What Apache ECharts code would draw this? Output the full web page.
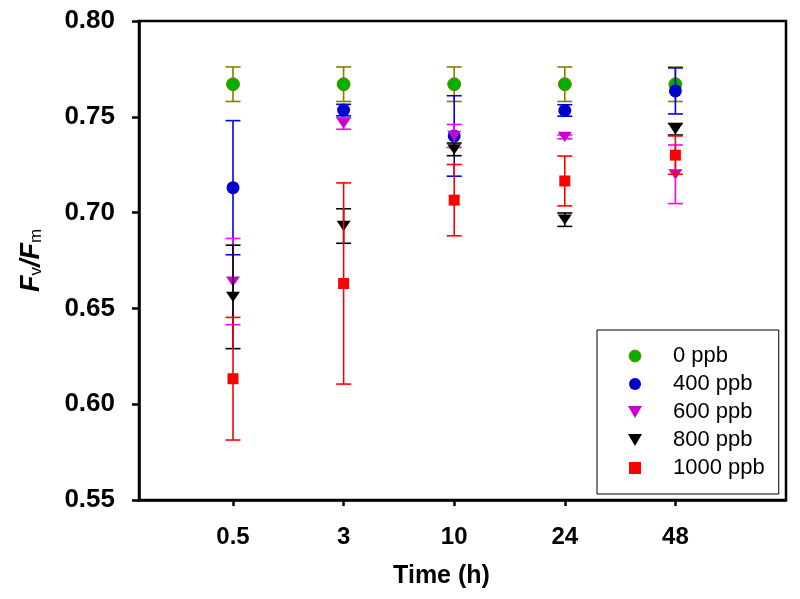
<!DOCTYPE html>
<html>
<head>
<meta charset="utf-8">
<script src="https://cdn.jsdelivr.net/npm/echarts@6/dist/echarts.min.js"></script>
<style>html,body{margin:0;padding:0;background:#fff;}#chart{width:800px;height:599px;}</style>
</head>
<body>
<div id="chart"></div>
<script>
// ---- data ----
var times = ['0.5', '3', '10', '24', '48'];
var seriesNames = ['0 ppb', '400 ppb', '600 ppb', '800 ppb', '1000 ppb'];
var mean0    = [0.767, 0.767, 0.767, 0.767, 0.767];
var sd0      = [0.009, 0.009, 0.009, 0.009, 0.009];
var mean400  = [0.713, 0.7535, 0.740, 0.7533, 0.7635];
var sd400    = [0.035, 0.003, 0.021, 0.003, 0.012];
var mean600  = [0.664, 0.7465, 0.740, 0.7395, 0.720];
var sd600    = [0.0225, 0.003, 0.006, 0.001, 0.0153];
var mean800  = [0.656, 0.693, 0.733, 0.6963, 0.7435];
var sd800    = [0.027, 0.009, 0.0033, 0.0035, 0.003];
var mean1000 = [0.6133, 0.663, 0.7065, 0.7165, 0.730];
var sd1000   = [0.032, 0.0525, 0.0186, 0.013, 0.010];

var means = [mean0, mean400, mean600, mean800, mean1000];
var sds = [sd0, sd400, sd600, sd800, sd1000];
var markerFill = ['#00b000', '#0000cc', '#cc00cc', '#000000', '#ff0000'];
var barColor = ['#808000', '#0000ee', '#ff00ff', '#000000', '#ff0000'];
var downTri = 'path://M0,0 L14,0 L7,12 Z';
var square = 'path://M0,0 L10,0 L10,10 L0,10 Z';
var symbols = ['circle', 'circle', downTri, downTri, square];
var symSizes = [13, 13, [14, 12], [14, 12], 11];

var series = [];
seriesNames.forEach(function (name, i) {
  var errData = times.map(function (t, k) {
    return [k + 1, means[i][k] - sds[i][k], means[i][k] + sds[i][k]];
  });
  series.push({
    type: 'custom',
    name: name + ' err',
    z: 2 + 2 * i,
    data: errData,
    encode: { x: 0, y: [1, 2] },
    renderItem: (function (color) {
      return function (params, api) {
        var lo = api.coord([api.value(0), api.value(1)]);
        var hi = api.coord([api.value(0), api.value(2)]);
        var hw = 7.5;
        var st = { stroke: color, lineWidth: 1.6 };
        return {
          type: 'group',
          children: [
            { type: 'line', shape: { x1: lo[0], y1: lo[1], x2: hi[0], y2: hi[1] }, style: st },
            { type: 'line', shape: { x1: lo[0] - hw, y1: lo[1], x2: lo[0] + hw, y2: lo[1] }, style: st },
            { type: 'line', shape: { x1: hi[0] - hw, y1: hi[1], x2: hi[0] + hw, y2: hi[1] }, style: st }
          ]
        };
      };
    })(barColor[i]),
    silent: true
  });
  series.push({
    type: 'scatter',
    name: name,
    z: 3 + 2 * i,
    symbol: symbols[i],
    symbolSize: symSizes[i],
    symbolKeepAspect: true,
    itemStyle: i === 0 ? { color: markerFill[i], opacity: 1, borderColor: '#808000', borderWidth: 1 } : { color: markerFill[i], opacity: 1 },
    data: times.map(function (t, k) { return [k + 1, means[i][k]]; })
  });
});

var legendData = seriesNames.map(function (n, i) {
  return { name: n, icon: symbols[i], itemStyle: i === 0 ? { color: markerFill[i], opacity: 1, borderColor: '#808000', borderWidth: 1 } : { color: markerFill[i], opacity: 1 } };
});

var chart = echarts.init(document.getElementById('chart'), null, { renderer: 'canvas' });
chart.setOption({
  animation: false,
  backgroundColor: '#ffffff',
  grid: { left: 139, right: 14, top: 21, bottom: 99, show: true, borderColor: '#000', borderWidth: 2.5, backgroundColor: 'transparent' },
  legend: {
    data: legendData,
    orient: 'vertical',
    left: 597,
    top: 330,
    padding: [15, 14, 15, 31],
    itemGap: 6,
    itemWidth: 66,
    itemHeight: 12,
    symbolKeepAspect: true,
    borderColor: '#000',
    borderWidth: 1,
    backgroundColor: '#fff',
    textStyle: { fontFamily: 'Liberation Sans', fontSize: 22, color: '#000', lineHeight: 20 }
  },
  xAxis: {
    type: 'value',
    min: 0.15,
    max: 6,
    splitLine: { show: false },
    axisLine: { lineStyle: { color: '#000', width: 2.5 } },
    axisTick: { show: true, inside: false, length: 6, lineStyle: { color: '#000', width: 2.5 }, customValues: [1, 2, 3, 4, 5] },
    axisLabel: {
      customValues: [1, 2, 3, 4, 5],
      formatter: function (v) { return times[Math.round(v) - 1]; },
      fontFamily: 'Liberation Sans', fontWeight: 'bold', fontSize: 24, color: '#000', margin: 25
    },
    name: 'Time (h)',
    nameLocation: 'middle',
    nameGap: 64,
    nameTextStyle: { fontFamily: 'Liberation Sans', fontWeight: 'bold', fontSize: 25, color: '#000', padding: [0, 42, 0, 0] }
  },
  yAxis: {
    type: 'value',
    min: 0.55,
    max: 0.80,
    interval: 0.05,
    splitLine: { show: false },
    axisLine: { show: true, lineStyle: { color: '#000', width: 2.5 } },
    axisTick: { show: true, inside: false, length: 7, lineStyle: { color: '#000', width: 2.5 } },
    axisLabel: {
      formatter: function (v) { return v.toFixed(2); },
      fontFamily: 'Liberation Sans', fontWeight: 'bold', fontSize: 26, color: '#000', margin: 24
    },
    name: '{f|F}{s|v}{f|/F}{s|m}',
    nameLocation: 'middle',
    nameGap: 94,
    nameTextStyle: {
      color: '#000',
      rich: {
        f: { fontFamily: 'Liberation Sans', fontWeight: 'bold', fontStyle: 'italic', fontSize: 27, lineHeight: 27, verticalAlign: 'top', color: '#000' },
        s: { fontFamily: 'Liberation Sans', fontSize: 17, lineHeight: 17, padding: [14, 0, 0, 0], verticalAlign: 'bottom', color: '#000' }
      }
    }
  },
  series: series
});
</script>
</body>
</html>
